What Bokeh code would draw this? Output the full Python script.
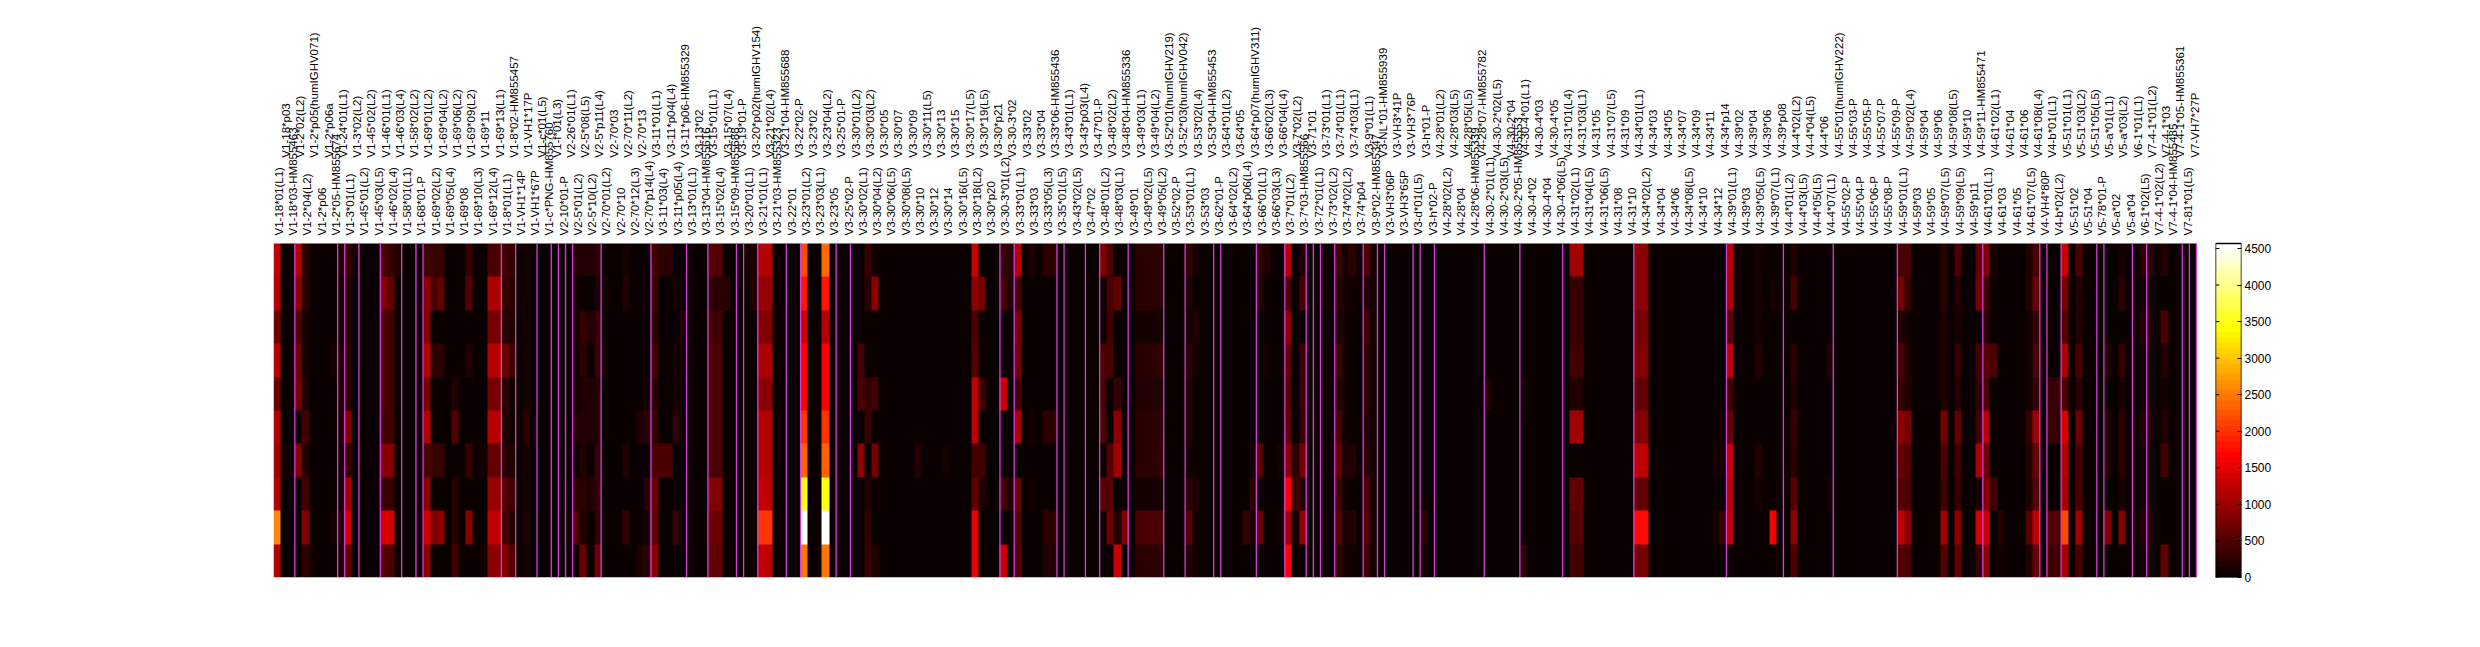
import numpy as np
import math
from bokeh.plotting import figure
from bokeh.layouts import row
from bokeh.core.properties import value
from bokeh.models import LinearColorMapper, LinearAxis, FixedTicker, Range1d
from bokeh.embed import file_html
from bokeh.resources import INLINE

tier_low = """V1-18*01(L1) V1-18*03-HM855463 V1-2*04(L2) V1-2*p06 V1-2*05-HM855674 V1-3*01(L1) V1-45*01(L2) V1-45*03(L5) V1-46*02(L4) V1-58*01(L1) V1-68*01-P V1-69*02(L2) V1-69*05(L4) V1-69*08 V1-69*10(L3) V1-69*12(L4) V1-8*01(L1) V1-VH1*14P V1-VH1*67P V1-c*PNG-HM855760 V2-10*01-P V2-5*01(L2) V2-5*10(L2) V2-70*01(L2) V2-70*10 V2-70*12(L3) V2-70*p14(L4) V3-11*03(L4) V3-11*p05(L4)
V3-13*01(L1) V3-13*04-HM855616 V3-15*02(L4) V3-15*09-HM855688 V3-20*01(L1) V3-21*01(L1) V3-21*03-HM855323 V3-22*01 V3-23*01(L2) V3-23*03(L1) V3-23*05 V3-25*02-P V3-30*02(L1) V3-30*04(L2) V3-30*06(L5) V3-30*08(L5) V3-30*10 V3-30*12 V3-30*14 V3-30*16(L5) V3-30*18(L2) V3-30*p20 V3-30-3*01(L2) V3-33*01(L1) V3-33*03 V3-33*05(L3) V3-35*01(L5) V3-43*02(L5) V3-47*02
V3-48*01(L2) V3-48*03(L1) V3-49*01 V3-49*02(L5) V3-49*05(L2) V3-52*02-P V3-53*01(L1) V3-53*03 V3-62*01-P V3-64*02(L2) V3-64*p06(L4) V3-66*01(L1) V3-66*03(L3) V3-7*01(L2) V3-7*03-HM855566 V3-72*01(L1) V3-73*02(L2) V3-74*02(L2) V3-74*p04 V3-9*02-HM855347 V3-VH3*06P V3-VH3*65P V3-d*01(L5) V3-h*02-P V4-28*02(L2) V4-28*04 V4-28*06-HM855339 V4-30-2*01(L1)
V4-30-2*03(L5) V4-30-2*05-HM855553 V4-30-4*02 V4-30-4*04 V4-30-4*06(L5) V4-31*02(L1) V4-31*04(L5) V4-31*06(L5) V4-31*08 V4-31*10 V4-34*02(L2) V4-34*04 V4-34*06 V4-34*08(L5) V4-34*10 V4-34*12 V4-39*01(L1) V4-39*03 V4-39*05(L5) V4-39*07(L1) V4-4*01(L2) V4-4*03(L5) V4-4*05(L5) V4-4*07(L1) V4-55*02-P V4-55*04-P V4-55*06-P V4-55*08-P V4-59*01(L1)
V4-59*03 V4-59*05 V4-59*07(L5) V4-59*09(L5) V4-59*p11 V4-61*01(L1) V4-61*03 V4-61*05 V4-61*07(L5) V4-VH4*80P V4-b*02(L2) V5-51*02 V5-51*04 V5-78*01-P V5-a*02 V5-a*04 V6-1*02(L5) V7-4-1*02(L2) V7-4-1*04-HM855485 V7-81*01(L5)""".split()

tier_high = """V1-18*p03 V1-2*02(L2) V1-2*p05(humIGHV071) V1-2*p06a V1-24*01(L1) V1-3*02(L2) V1-45*02(L2) V1-46*01(L1) V1-46*03(L4) V1-58*02(L2) V1-69*01(L2) V1-69*04(L2) V1-69*06(L2) V1-69*09(L2) V1-69*11 V1-69*13(L1) V1-8*02-HM855457 V1-VH1*17P V1-c*01(L5) V1-f*01(L3) V2-26*01(L1) V2-5*08(L5) V2-5*p11(L4) V2-70*03 V2-70*11(L2) V2-70*13 V3-11*01(L1) V3-11*p04(L4) V3-11*p06-HM855329
V3-13*02 V3-15*01(L1) V3-15*07(L4) V3-19*01-P V3-20*p02(humIGHV154) V3-21*02(L4) V3-21*04-HM855688 V3-22*02-P V3-23*02 V3-23*04(L2) V3-25*01-P V3-30*01(L2) V3-30*03(L2) V3-30*05 V3-30*07 V3-30*09 V3-30*11(L5) V3-30*13 V3-30*15 V3-30*17(L5) V3-30*19(L5) V3-30*p21 V3-30-3*02 V3-33*02 V3-33*04 V3-33*06-HM855436 V3-43*01(L1) V3-43*p03(L4)
V3-47*01-P V3-48*02(L2) V3-48*04-HM855336 V3-49*03(L1) V3-49*04(L2) V3-52*01(humIGHV219) V3-52*03(humIGHV042) V3-53*02(L4) V3-53*04-HM855453 V3-64*01(L2) V3-64*05 V3-64*p07(humIGHV311) V3-66*02(L3) V3-66*04(L4) V3-7*02(L2) V3-71*01 V3-73*01(L1) V3-74*01(L1) V3-74*03(L1) V3-9*01(L1) V3-NL*01-HM855939 V3-VH3*41P V3-VH3*76P V3-h*01-P V4-28*01(L2) V4-28*03(L5) V4-28*05(L5) V4-28*07-HM855782 V4-30-2*02(L5)
V4-30-2*04 V4-30-4*01(L1) V4-30-4*03 V4-30-4*05 V4-31*01(L4) V4-31*03(L1) V4-31*05 V4-31*07(L5) V4-31*09 V4-34*01(L1) V4-34*03 V4-34*05 V4-34*07 V4-34*09 V4-34*11 V4-34*p14 V4-39*02 V4-39*04 V4-39*06 V4-39*p08 V4-4*02(L2) V4-4*04(L5) V4-4*06 V4-55*01(humIGHV222) V4-55*03-P V4-55*05-P V4-55*07-P V4-55*09-P V4-59*02(L4)
V4-59*04 V4-59*06 V4-59*08(L5) V4-59*10 V4-59*11-HM855471 V4-61*02(L1) V4-61*04 V4-61*06 V4-61*08(L4) V4-b*01(L1) V5-51*01(L1) V5-51*03(L2) V5-51*05(L5) V5-a*01(L1) V5-a*03(L2) V6-1*01(L1) V7-4-1*01(L2) V7-4-1*03 V7-4-1*05-HM855361 V7-VH7*27P""".split()

# Column index -> ten values, top row first (everything not listed reads as about 0)
column_values = {
    0: [1250, 1200, 750, 1150, 700, 1200, 1000, 1200, 2600, 1150],
    1: [30, 30, 30, 30, 30, 30, 80, 30, 60, 30],
    3: [1150, 900, 450, 700, 750, 0, 800, 0, 30, 60],
    4: [250, 250, 130, 130, 200, 400, 200, 400, 800, 250],
    5: [60, 60, 60, 60, 60, 60, 60, 60, 60, 100],
    6: [60, 60, 60, 60, 60, 60, 60, 60, 60, 60],
    7: [60, 60, 60, 60, 60, 60, 60, 60, 60, 60],
    8: [60, 60, 60, 100, 60, 60, 60, 60, 100, 60],
    9: [150, 100, 100, 200, 150, 200, 100, 100, 200, 150],
    10: [330, 200, 200, 270, 270, 800, 300, 1000, 1350, 600],
    11: [100, 60, 60, 60, 60, 60, 60, 60, 60, 60],
    15: [470, 800, 470, 470, 470, 400, 870, 330, 1380, 540],
    16: [330, 600, 400, 400, 400, 400, 800, 330, 1380, 470],
    17: [200, 60, 60, 60, 60, 60, 60, 60, 60, 60],
    21: [400, 870, 800, 1150, 750, 1200, 470, 870, 1350, 870],
    22: [330, 470, 0, 270, 0, 0, 330, 0, 800, 0],
    23: [330, 600, 0, 270, 0, 0, 330, 0, 870, 0],
    25: [30, 30, 0, 30, 200, 540, 60, 270, 270, 400],
    27: [330, 540, 0, 200, 0, 0, 330, 0, 870, 0],
    29: [30, 30, 30, 30, 30, 30, 100, 30, 30, 100],
    30: [470, 1080, 750, 1150, 750, 1200, 600, 950, 1280, 870],
    31: [470, 1080, 750, 1150, 750, 1200, 600, 950, 1280, 870],
    32: [400, 330, 270, 670, 270, 200, 270, 540, 400, 800],
    33: [330, 270, 200, 400, 130, 130, 200, 400, 270, 540],
    35: [100, 100, 100, 100, 100, 270, 100, 100, 200, 100],
    42: [200, 100, 130, 130, 130, 200, 0, 270, 470, 0],
    43: [200, 0, 330, 270, 200, 200, 200, 270, 200, 670],
    44: [200, 0, 200, 0, 200, 200, 0, 200, 0, 0],
    45: [270, 130, 330, 330, 200, 200, 330, 330, 270, 670],
    46: [60, 130, 60, 130, 60, 60, 60, 60, 60, 60],
    49: [130, 200, 0, 0, 0, 0, 170, 0, 330, 0],
    51: [0, 0, 0, 0, 0, 170, 0, 0, 0, 170],
    52: [0, 0, 0, 0, 100, 270, 0, 270, 100, 270],
    53: [400, 330, 270, 400, 270, 330, 470, 670, 600, 870],
    54: [270, 0, 0, 0, 0, 0, 470, 0, 60, 0],
    55: [270, 0, 0, 0, 0, 0, 470, 0, 60, 0],
    56: [0, 130, 60, 130, 100, 270, 60, 60, 330, 60],
    57: [0, 60, 200, 100, 60, 60, 60, 60, 60, 60],
    61: [540, 270, 400, 470, 470, 470, 470, 800, 670, 600],
    62: [540, 270, 400, 470, 470, 470, 470, 800, 670, 600],
    63: [60, 270, 60, 60, 60, 60, 60, 60, 60, 60],
    66: [130, 60, 60, 60, 60, 60, 60, 60, 60, 60],
    67: [200, 200, 60, 60, 60, 60, 60, 60, 60, 60],
    68: [1200, 950, 800, 1080, 870, 1150, 1150, 1280, 2000, 1280],
    69: [1200, 950, 800, 1080, 870, 1150, 1150, 1280, 2000, 1280],
    74: [2180, 1850, 1300, 1650, 1700, 2050, 2320, 3430, 4568, 2450],
    77: [2400, 1800, 1150, 1650, 1680, 2050, 2320, 3430, 4568, 2450],
    82: [0, 0, 0, 400, 470, 0, 870, 0, 0, 0],
    83: [330, 270, 0, 0, 330, 330, 0, 200, 270, 330],
    84: [130, 870, 0, 0, 400, 0, 750, 0, 0, 200],
    90: [0, 0, 0, 0, 0, 0, 200, 0, 0, 0],
    94: [0, 0, 0, 0, 0, 0, 130, 0, 0, 0],
    98: [1350, 870, 470, 540, 1280, 1280, 400, 600, 1500, 1500],
    99: [0, 750, 0, 0, 400, 0, 400, 200, 0, 0],
    102: [330, 400, 0, 0, 1350, 0, 0, 400, 0, 1350],
    103: [270, 200, 0, 0, 0, 0, 0, 200, 0, 0],
    104: [1200, 400, 750, 670, 400, 1080, 0, 600, 470, 540],
    106: [170, 60, 60, 60, 60, 100, 60, 100, 60, 60],
    108: [235, 60, 60, 60, 60, 235, 60, 60, 235, 170],
    109: [235, 60, 60, 60, 60, 235, 60, 60, 235, 170],
    116: [800, 0, 0, 470, 400, 470, 0, 540, 0, 0],
    117: [470, 470, 400, 470, 0, 0, 540, 540, 670, 0],
    118: [0, 600, 0, 0, 330, 870, 1000, 0, 200, 1350],
    119: [0, 0, 0, 0, 0, 0, 0, 0, 800, 0],
    121: [235, 235, 135, 270, 170, 235, 270, 100, 470, 235],
    122: [235, 235, 135, 270, 170, 235, 270, 100, 470, 235],
    123: [235, 235, 135, 270, 170, 235, 270, 100, 470, 235],
    124: [235, 235, 135, 330, 200, 270, 330, 100, 470, 270],
    128: [335, 170, 100, 270, 170, 200, 100, 270, 535, 200],
    129: [100, 60, 200, 135, 60, 60, 60, 200, 135, 100],
    136: [0, 0, 0, 0, 0, 0, 0, 0, 300, 0],
    137: [0, 0, 0, 0, 0, 0, 100, 270, 100, 0],
    138: [235, 200, 0, 70, 0, 0, 540, 0, 600, 0],
    139: [170, 0, 0, 100, 0, 0, 0, 0, 0, 0],
    141: [0, 0, 0, 0, 0, 0, 100, 0, 135, 70],
    142: [1150, 470, 870, 600, 540, 600, 870, 1700, 1000, 1650],
    143: [0, 0, 0, 0, 0, 0, 270, 400, 100, 0],
    144: [170, 470, 0, 400, 400, 330, 750, 200, 950, 0],
    147: [100, 100, 60, 60, 100, 60, 100, 60, 100, 60],
    149: [400, 270, 200, 400, 270, 470, 600, 400, 535, 335],
    150: [135, 135, 135, 135, 135, 135, 200, 135, 200, 135],
    151: [270, 135, 60, 60, 60, 60, 200, 60, 200, 135],
    153: [470, 170, 400, 270, 235, 200, 270, 470, 535, 400],
    154: [135, 135, 135, 135, 135, 135, 135, 135, 135, 135],
    161: [0, 0, 0, 0, 0, 70, 70, 70, 270, 135],
    170: [0, 70, 0, 0, 170, 70, 70, 0, 0, 70],
    175: [0, 0, 0, 0, 135, 0, 0, 0, 0, 235],
    182: [1000, 330, 330, 400, 200, 1000, 0, 600, 540, 400],
    183: [1000, 330, 330, 400, 200, 1000, 0, 600, 540, 400],
    191: [870, 870, 750, 800, 600, 800, 1280, 600, 1750, 750],
    192: [870, 870, 750, 800, 600, 800, 1280, 600, 1750, 750],
    202: [0, 0, 0, 0, 0, 70, 100, 0, 135, 0],
    203: [0, 0, 0, 0, 0, 135, 100, 70, 335, 0],
    204: [1150, 1080, 540, 1280, 400, 600, 1350, 1200, 1280, 0],
    205: [135, 135, 70, 70, 70, 70, 70, 70, 70, 0],
    208: [135, 135, 135, 200, 70, 70, 170, 135, 70, 0],
    210: [0, 135, 0, 0, 0, 0, 0, 0, 1600, 0],
    213: [170, 400, 0, 270, 170, 335, 270, 535, 870, 470],
    218: [0, 0, 0, 200, 70, 0, 0, 135, 0, 0],
    228: [470, 735, 200, 470, 335, 870, 670, 535, 1275, 535],
    229: [470, 335, 135, 200, 200, 735, 535, 470, 870, 470],
    234: [270, 270, 170, 200, 200, 735, 470, 400, 1005, 535],
    236: [470, 200, 135, 335, 200, 600, 400, 335, 870, 600],
    239: [600, 735, 0, 400, 270, 400, 1140, 135, 1400, 335],
    240: [800, 400, 270, 535, 470, 1205, 670, 800, 1340, 870],
    241: [135, 0, 0, 470, 0, 0, 0, 400, 0, 0],
    242: [0, 0, 0, 0, 0, 0, 0, 70, 200, 135],
    246: [200, 170, 100, 135, 135, 335, 170, 170, 535, 200],
    247: [470, 670, 335, 470, 335, 1005, 670, 535, 1275, 670],
    249: [0, 0, 0, 0, 335, 335, 0, 0, 535, 400],
    250: [0, 0, 0, 0, 335, 335, 0, 0, 535, 400],
    251: [1340, 735, 535, 1140, 470, 1400, 1205, 1140, 2180, 1140],
    253: [470, 200, 200, 470, 270, 670, 470, 470, 1005, 470],
    257: [0, 0, 0, 200, 70, 200, 170, 70, 800, 0],
    259: [100, 270, 0, 335, 100, 270, 270, 135, 800, 0],
    262: [270, 135, 200, 135, 135, 200, 135, 135, 200, 135],
    263: [270, 135, 200, 135, 135, 200, 135, 135, 200, 135],
    265: [200, 35, 470, 200, 100, 170, 400, 70, 35, 600],
}

colorbar_ticks = [0, 500, 1000, 1500, 2000, 2500, 3000, 3500, 4000, 4500]
value_max = 4568

labels = [t for pair in zip(tier_low, tier_high) for t in pair]
assert len(labels) == 270, (len(tier_low), len(tier_high))
n_cols, n_rows = len(labels), 10

# MATLAB 'hot' with 64 levels
hot = []
for i in range(64):
    r = min(1, (i + 1) / 24)
    g = min(1, max(0, (i + 1 - 24) / 24))
    b = max(0, (i + 1 - 48) / 16)
    hot.append("#%02x%02x%02x" % (round(r * 255), round(g * 255), round(b * 255)))
mapper = LinearColorMapper(palette=hot, low=0, high=value_max)

grid = np.zeros((n_rows, n_cols))
for col, vals in column_values.items():
    grid[:, col] = vals

MAP_W, MAP_H = 1923, 334
TOP = 243
LEFT = 273
GAP = 2215 - LEFT - MAP_W
FIG_H = TOP + MAP_H + 50
# The frames run to the top of the page and across the gap to the colour bar,
# so the tick texts can be plain glyphs and the last one is not cut off
scale_up = (TOP + MAP_H) / MAP_H
p = figure(output_backend="svg", toolbar_location=None,
           frame_width=MAP_W + GAP, frame_height=TOP + MAP_H,
           width=LEFT + MAP_W + GAP, height=FIG_H,
           x_range=Range1d(0, n_cols * (MAP_W + GAP) / MAP_W), y_range=Range1d(0, n_rows * scale_up),
           min_border_left=LEFT, min_border_right=0, min_border_top=0, min_border_bottom=50,
           x_axis_location=None, y_axis_location=None)
p.grid.visible = False
p.outline_line_color = None

# the first stored row is the top row of the map
p.image(image=[grid[::-1]], x=0, y=0, dw=n_cols, dh=n_rows, color_mapper=mapper)

# magenta rule at every gene boundary, plus the end of the map
genes = [s.split("*")[0] for s in labels]
bounds = [i for i in range(1, n_cols) if genes[i] != genes[i - 1]] + [n_cols]
p.segment(x0=bounds, x1=bounds, y0=[0] * len(bounds), y1=[n_rows] * len(bounds),
          line_color="#d83ce0", line_width=1.3)

p.text(x=[c + 0.75 for c in range(0, n_cols, 2)], y=[10.24] * len(tier_low), text=tier_low,
       angle=math.pi / 2, text_align="left", text_baseline="middle",
       text_font=value("Liberation Sans"), text_font_size="11.5px", text_color="black")
p.text(x=[c + 0.75 for c in range(1, n_cols, 2)], y=[12.57] * len(tier_high), text=tier_high,
       angle=math.pi / 2, text_align="left", text_baseline="middle",
       text_font=value("Liberation Sans"), text_font_size="11.5px", text_color="black")

# colour bar
cb = figure(output_backend="svg", toolbar_location=None,
            frame_width=26, frame_height=TOP + MAP_H, width=80, height=FIG_H,
            x_range=Range1d(0, 1), y_range=Range1d(0, value_max * scale_up),
            min_border_left=0, min_border_right=0, min_border_top=0, min_border_bottom=50,
            x_axis_location=None, y_axis_location=None)
cb.grid.visible = False
cb.outline_line_color = None
cb.image(image=[np.linspace(0, value_max, 64).reshape(64, 1)], x=0, y=0, dw=1, dh=value_max,
         color_mapper=mapper)
cb.quad(left=[0], right=[1], bottom=[0], top=[value_max], fill_color=None, line_color="black", line_width=1.5)
cb.segment(x0=[0] * len(colorbar_ticks), x1=[0.15] * len(colorbar_ticks),
           y0=colorbar_ticks, y1=colorbar_ticks, line_color="black", line_width=1)
ax_r = LinearAxis(ticker=FixedTicker(ticks=colorbar_ticks), major_tick_in=4, major_tick_out=0,
                  minor_tick_line_color=None, major_label_standoff=3, axis_line_color=None,
                  major_label_text_font="Liberation Sans", major_label_text_font_size="12px",
                  major_label_text_color="black")
cb.add_layout(ax_r, "right")

page = row(p, cb, spacing=0)
open("out.html", "w").write(file_html(page, INLINE))
